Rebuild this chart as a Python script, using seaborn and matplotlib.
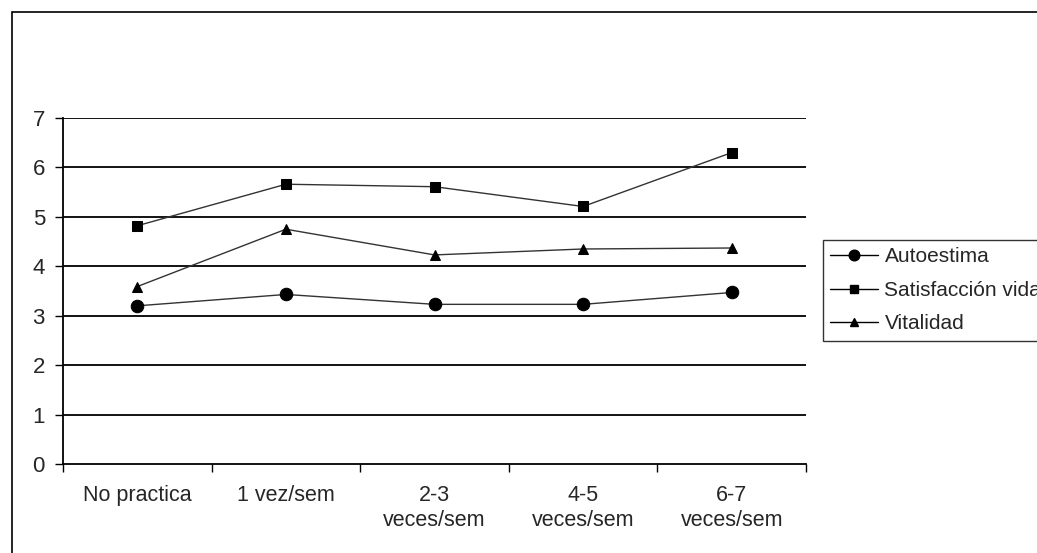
import matplotlib
matplotlib.use("Agg")
import matplotlib.pyplot as plt
import seaborn as sns
import pandas as pd
from matplotlib.patches import Rectangle
from matplotlib.lines import Line2D

categories = ["No practica", "1 vez/sem", "2-3\nveces/sem", "4-5\nveces/sem", "6-7\nveces/sem"]
autoestima = [3.20, 3.43, 3.23, 3.23, 3.47]
satisfaccion = [4.82, 5.66, 5.61, 5.21, 6.30]
vitalidad = [3.59, 4.75, 4.23, 4.35, 4.37]
series_names = ["Autoestima", "Satisfacción vida", "Vitalidad"]
y_ticks = [0, 1, 2, 3, 4, 5, 6, 7]

rows = []
for name, vals in zip(series_names, [autoestima, satisfaccion, vitalidad]):
    for i, v in enumerate(vals):
        rows.append({"pos": i, "value": v, "serie": name})
df = pd.DataFrame(rows)

sns.set_theme(style="white")
plt.rcParams["font.family"] = ["Liberation Sans", "DejaVu Sans"]

fig = plt.figure(figsize=(10.37, 5.53), dpi=100)
ax = fig.add_axes([63/1037, 1-464/553, (806-63)/1037, (464-118)/553])

markers = {"Autoestima": "o", "Satisfacción vida": "s", "Vitalidad": "^"}
msizes = {"Autoestima": 9, "Satisfacción vida": 6.5, "Vitalidad": 7.5}
for name in series_names:
    sub = df[df["serie"] == name]
    sns.lineplot(data=sub, x="pos", y="value", ax=ax, color="#333333", linewidth=1.0,
                 marker=markers[name], markersize=msizes[name], markeredgecolor="black",
                 markerfacecolor="black", legend=False)

ax.set_xlim(-0.5, 4.5)
ax.set_ylim(0, 7)
ax.set_yticks(y_ticks)
ax.set_yticklabels([str(t) for t in y_ticks], fontsize=16)
for t in y_ticks[1:]:
    ax.axhline(t, color="black", linewidth=1.3, zorder=0)
ax.set_xticks(range(len(categories)))
ax.set_xticklabels(categories, fontsize=15.5, va="top", linespacing=1.25)
ax.set_xticks([i - 0.5 for i in range(len(categories) + 1)], minor=True)
ax.tick_params(axis="x", which="major", length=0, pad=15)
ax.tick_params(axis="x", which="minor", length=6, width=1, color="black", direction="out", bottom=True)
ax.tick_params(axis="y", length=6, width=1, color="black", direction="out", left=True, pad=7)
ax.set_xlabel("")
ax.set_ylabel("")
for s in ["top", "right"]:
    ax.spines[s].set_visible(False)
for s in ["left", "bottom"]:
    ax.spines[s].set_color("black")
    ax.spines[s].set_linewidth(1.3)

handles = [Line2D([0], [0], color="black", linewidth=1.0, marker=markers[n],
                  markersize=msizes[n] * 0.85, markerfacecolor="black", markeredgecolor="black")
           for n in series_names]
leg = fig.legend(handles, series_names, loc="upper left",
                 bbox_to_anchor=(823/1037, 1-240/553), frameon=True, fontsize=15,
                 handlelength=2.3, handletextpad=0.3, borderpad=0.35, labelspacing=0.7,
                 fancybox=False, borderaxespad=0)
leg.get_frame().set_edgecolor("black")
leg.get_frame().set_linewidth(1.0)

fig.add_artist(Rectangle((12/1037, -0.1), 1.2, 1.1 - 12/553, transform=fig.transFigure,
                         fill=False, edgecolor="black", linewidth=1.2))

fig.savefig("out.png", dpi=100)
